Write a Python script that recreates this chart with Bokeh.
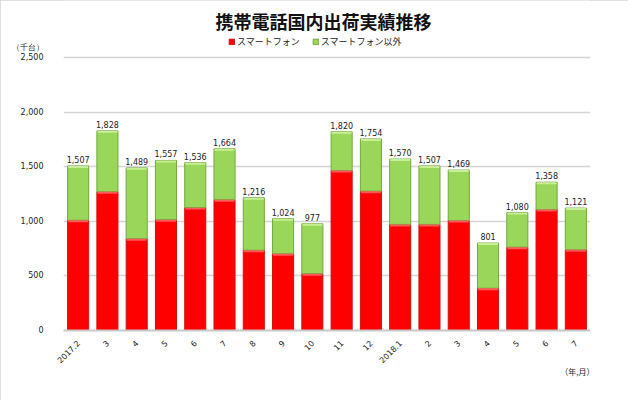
import math
from bokeh.plotting import figure
from bokeh.models import (ColumnDataSource, FixedTicker, Title, Legend, LegendItem,
                          Range1d, Label)
from bokeh.core.properties import value
from bokeh.embed import file_html
from bokeh.resources import INLINE

# ---- data ----
month_labels = ["2017.2", "3", "4", "5", "6", "7", "8", "9", "10", "11", "12",
                "2018.1", "2", "3", "4", "5", "6", "7"]
smartphone = [1010, 1270, 840, 1015, 1125, 1197, 735, 702, 520, 1465, 1276,
              971, 971, 1007, 387, 763, 1108, 739]
non_smartphone = [497, 558, 649, 542, 411, 467, 481, 322, 457, 355, 478,
                  599, 536, 462, 414, 317, 250, 382]
totals = [1507, 1828, 1489, 1557, 1536, 1664, 1216, 1024, 977, 1820, 1754,
          1570, 1507, 1469, 801, 1080, 1358, 1121]
y_ticks = [0, 500, 1000, 1500, 2000, 2500]
series_names = ["スマートフォン", "スマートフォン以外"]
title_text = "携帯電話国内出荷実績推移"
y_unit = "（千台）"
x_unit = "（年,月）"

Y_MAX = 2500          # top of value axis
Y_HEAD = 3022         # headroom so title/legend sit inside the plot frame
UNIT_POS = 2590       # value position of the unit caption on the y axis

pos = list(range(1, len(month_labels) + 1))
stack_top = [s + o for s, o in zip(smartphone, non_smartphone)]
src = ColumnDataSource(dict(
    x=pos, smart=smartphone, other=non_smartphone, top=stack_top,
    total=totals, total_lbl=[f"{t:,}" for t in totals],
    smart_hl=[s - 18 for s in smartphone], top_hl=[t - 18 for t in stack_top],
))

FONT = "DejaVu Sans"
CJK = "Noto Sans CJK JP"

p = figure(width=628, height=400, output_backend="svg", toolbar_location=None,
           x_range=Range1d(0.5, 18.5), y_range=Range1d(0, Y_HEAD),
           min_border_left=63, min_border_right=38, min_border_top=0,
           min_border_bottom=70)
p.outline_line_color = None
p.background_fill_color = "white"
p.border_fill_color = "white"
p.styles = {"outline": "1px solid #D4D4D4", "outline-offset": "-1px"}

# bars
r_red = p.vbar(x="x", bottom=0, top="smart", width=0.72, source=src,
               fill_color="#FF0000", line_color="#D01010", line_width=1)
r_grn = p.vbar(x="x", bottom="smart", top="top", width=0.72, source=src,
               fill_color="#99D65A", line_color="#74A83C", line_width=1)
# top highlights
p.vbar(x="x", bottom="smart_hl", top="smart", width=0.68, source=src,
       fill_color="#FF5A5A", line_color=None)
p.vbar(x="x", bottom="top_hl", top="top", width=0.68, source=src,
       fill_color="#C8EE98", line_color=None)

# total labels
p.text(x="x", y="total", text="total_lbl", source=src, y_offset=-3,
       text_align="center", text_baseline="bottom", text_font=value(FONT),
       text_font_size="8px", text_color="#222222")

# y axis (unit caption shown as the top tick label)
p.yaxis.ticker = FixedTicker(ticks=y_ticks + [UNIT_POS])
p.yaxis.major_label_overrides = {**{t: f"{t:,}" for t in y_ticks}, UNIT_POS: y_unit}
p.yaxis.major_tick_line_color = None
p.yaxis.minor_tick_line_color = None
p.yaxis.axis_line_color = None
p.yaxis.major_label_standoff = 14
p.yaxis.major_label_text_font = FONT
p.yaxis.major_label_text_font_size = "8px"
p.yaxis.major_label_text_color = "#222222"

p.xaxis.ticker = FixedTicker(ticks=pos)
p.xaxis.major_label_overrides = {i: lbl for i, lbl in zip(pos, month_labels)}
p.xaxis.major_label_orientation = math.pi / 4
p.xaxis.major_tick_line_color = None
p.xaxis.minor_tick_line_color = None
p.xaxis.axis_line_color = "#C8C8C8"
p.xaxis.axis_line_width = 2
p.xaxis.major_label_standoff = 5
p.xaxis.major_label_text_font = FONT
p.xaxis.major_label_text_font_size = "8px"
p.xaxis.major_label_text_color = "#222222"

# grids: horizontal value lines, and the vertical value-axis line
p.ygrid.ticker = FixedTicker(ticks=y_ticks[1:])
p.ygrid.grid_line_color = "#D4D4D4"
p.ygrid.grid_line_width = 1.5
p.xgrid.ticker = FixedTicker(ticks=[0.5])
p.xgrid.bounds = (0, Y_MAX)
p.xgrid.grid_line_color = "#C8C8C8"
p.xgrid.grid_line_width = 3

# title inside the frame headroom
p.add_layout(Label(x=260, y=310, x_units="screen", y_units="screen", text=title_text,
                   text_align="center", text_baseline="middle", text_font=CJK,
                   text_font_size="18px", text_font_style="bold", text_color="#111111"))

legend = Legend(items=[LegendItem(label=series_names[0], renderers=[r_red]),
                       LegendItem(label=series_names[1], renderers=[r_grn])],
                orientation="horizontal", location=(165, 282),
                label_text_font=CJK, label_text_font_size="9px",
                label_text_color="#222222", glyph_width=7, glyph_height=7,
                label_height=12, label_standoff=2, spacing=12, padding=0,
                margin=0, border_line_color=None, background_fill_alpha=0)
p.add_layout(legend, "center")

# x unit caption
p.add_layout(Title(text=x_unit, align="right", offset=-4, standoff=-14,
                   text_font=CJK, text_font_size="8px", text_font_style="normal",
                   text_color="#222222"), "below")

open("out.html", "w").write(file_html(p, INLINE))
